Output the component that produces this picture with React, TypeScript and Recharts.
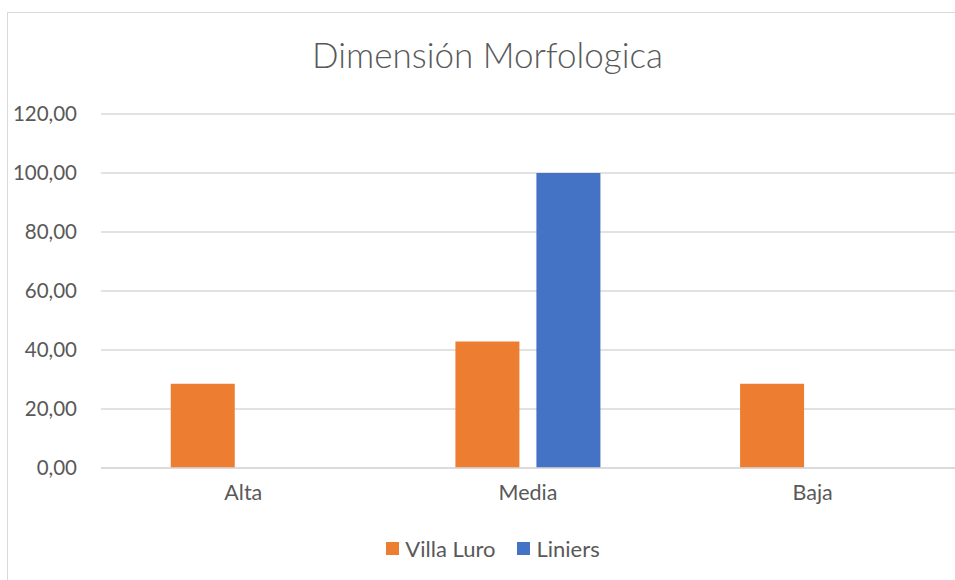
import React from 'react';
import { BarChart, Bar, XAxis, YAxis, CartesianGrid, Legend } from 'recharts';

const categories = ['Alta', 'Media', 'Baja'];
const villaLuro = [28.57, 42.86, 28.57];
const liniers = [0, 100, 0];
const yTicks = [0, 20, 40, 60, 80, 100, 120];
const seriesNames = ['Villa Luro', 'Liniers'];
const seriesColors = ['#ED7D31', '#4472C4'];

const data = categories.map((c, i) => ({ name: c, 'Villa Luro': villaLuro[i], Liniers: liniers[i] }));

const FONT = 'Lato, "Open Sans", sans-serif';
const TEXT = '#595959';

const fmt = (v: number) => v.toFixed(2).replace('.', ',');

const LegendContent = (props: any) => {
  const items = [...(props.payload || [])].sort(
    (a: any, b: any) => seriesNames.indexOf(a.value) - seriesNames.indexOf(b.value)
  );
  return (
    <div style={{ height: 72, display: 'flex', justifyContent: 'center', alignItems: 'flex-start', paddingTop: 27, paddingLeft: 31, boxSizing: 'border-box', fontFamily: FONT, fontSize: 22, color: TEXT }}>
      {items.map((it: any, i: number) => (
        <div key={i} style={{ display: 'flex', alignItems: 'center', marginLeft: i ? 22 : 0 }}>
          <span style={{ width: 13, height: 13, background: it.color, display: 'inline-block', marginRight: 6 }} />
          <span>{it.value}</span>
        </div>
      ))}
    </div>
  );
};

export default function App() {
  return (
    <div style={{ position: 'absolute', left: 0, top: 0, width: 955, height: 580, background: '#fff', overflow: 'hidden' }}>
      <div style={{ position: 'absolute', left: 7, top: 12, width: 1000, height: 1000, border: '1px solid #d9d9d9', boxSizing: 'border-box' }} />
      <div style={{ position: 'absolute', left: 0, width: 975, top: 33, textAlign: 'center', fontFamily: FONT, fontSize: 35, color: TEXT, fontWeight: 300 }}>
        Dimensión Morfologica
      </div>
      <div style={{ position: 'absolute', left: 0, top: 0 }}>
        <BarChart width={955} height={580} data={data} margin={{ top: 114, right: 0, left: 0, bottom: 0 }} barCategoryGap="24.5%" barGap={17}>
          <CartesianGrid vertical={false} stroke="#d9d9d9" strokeWidth={1.3} />
          <XAxis dataKey="name" height={40} axisLine={{ stroke: '#d9d9d9', strokeWidth: 1.3 }} tickLine={false} tick={{ fill: TEXT, fontSize: 21.5, fontFamily: FONT }} tickMargin={11} />
          <YAxis width={101} domain={[0, 120]} ticks={yTicks} tickFormatter={fmt} axisLine={false} tickLine={false} tick={{ fill: TEXT, fontSize: 20.5, fontFamily: FONT }} tickMargin={18} />
          <Legend verticalAlign="bottom" height={72} content={<LegendContent />} />
          {seriesNames.map((s, i) => (
            <Bar key={s} dataKey={s} fill={seriesColors[i]} isAnimationActive={false} />
          ))}
        </BarChart>
      </div>
    </div>
  );
}
